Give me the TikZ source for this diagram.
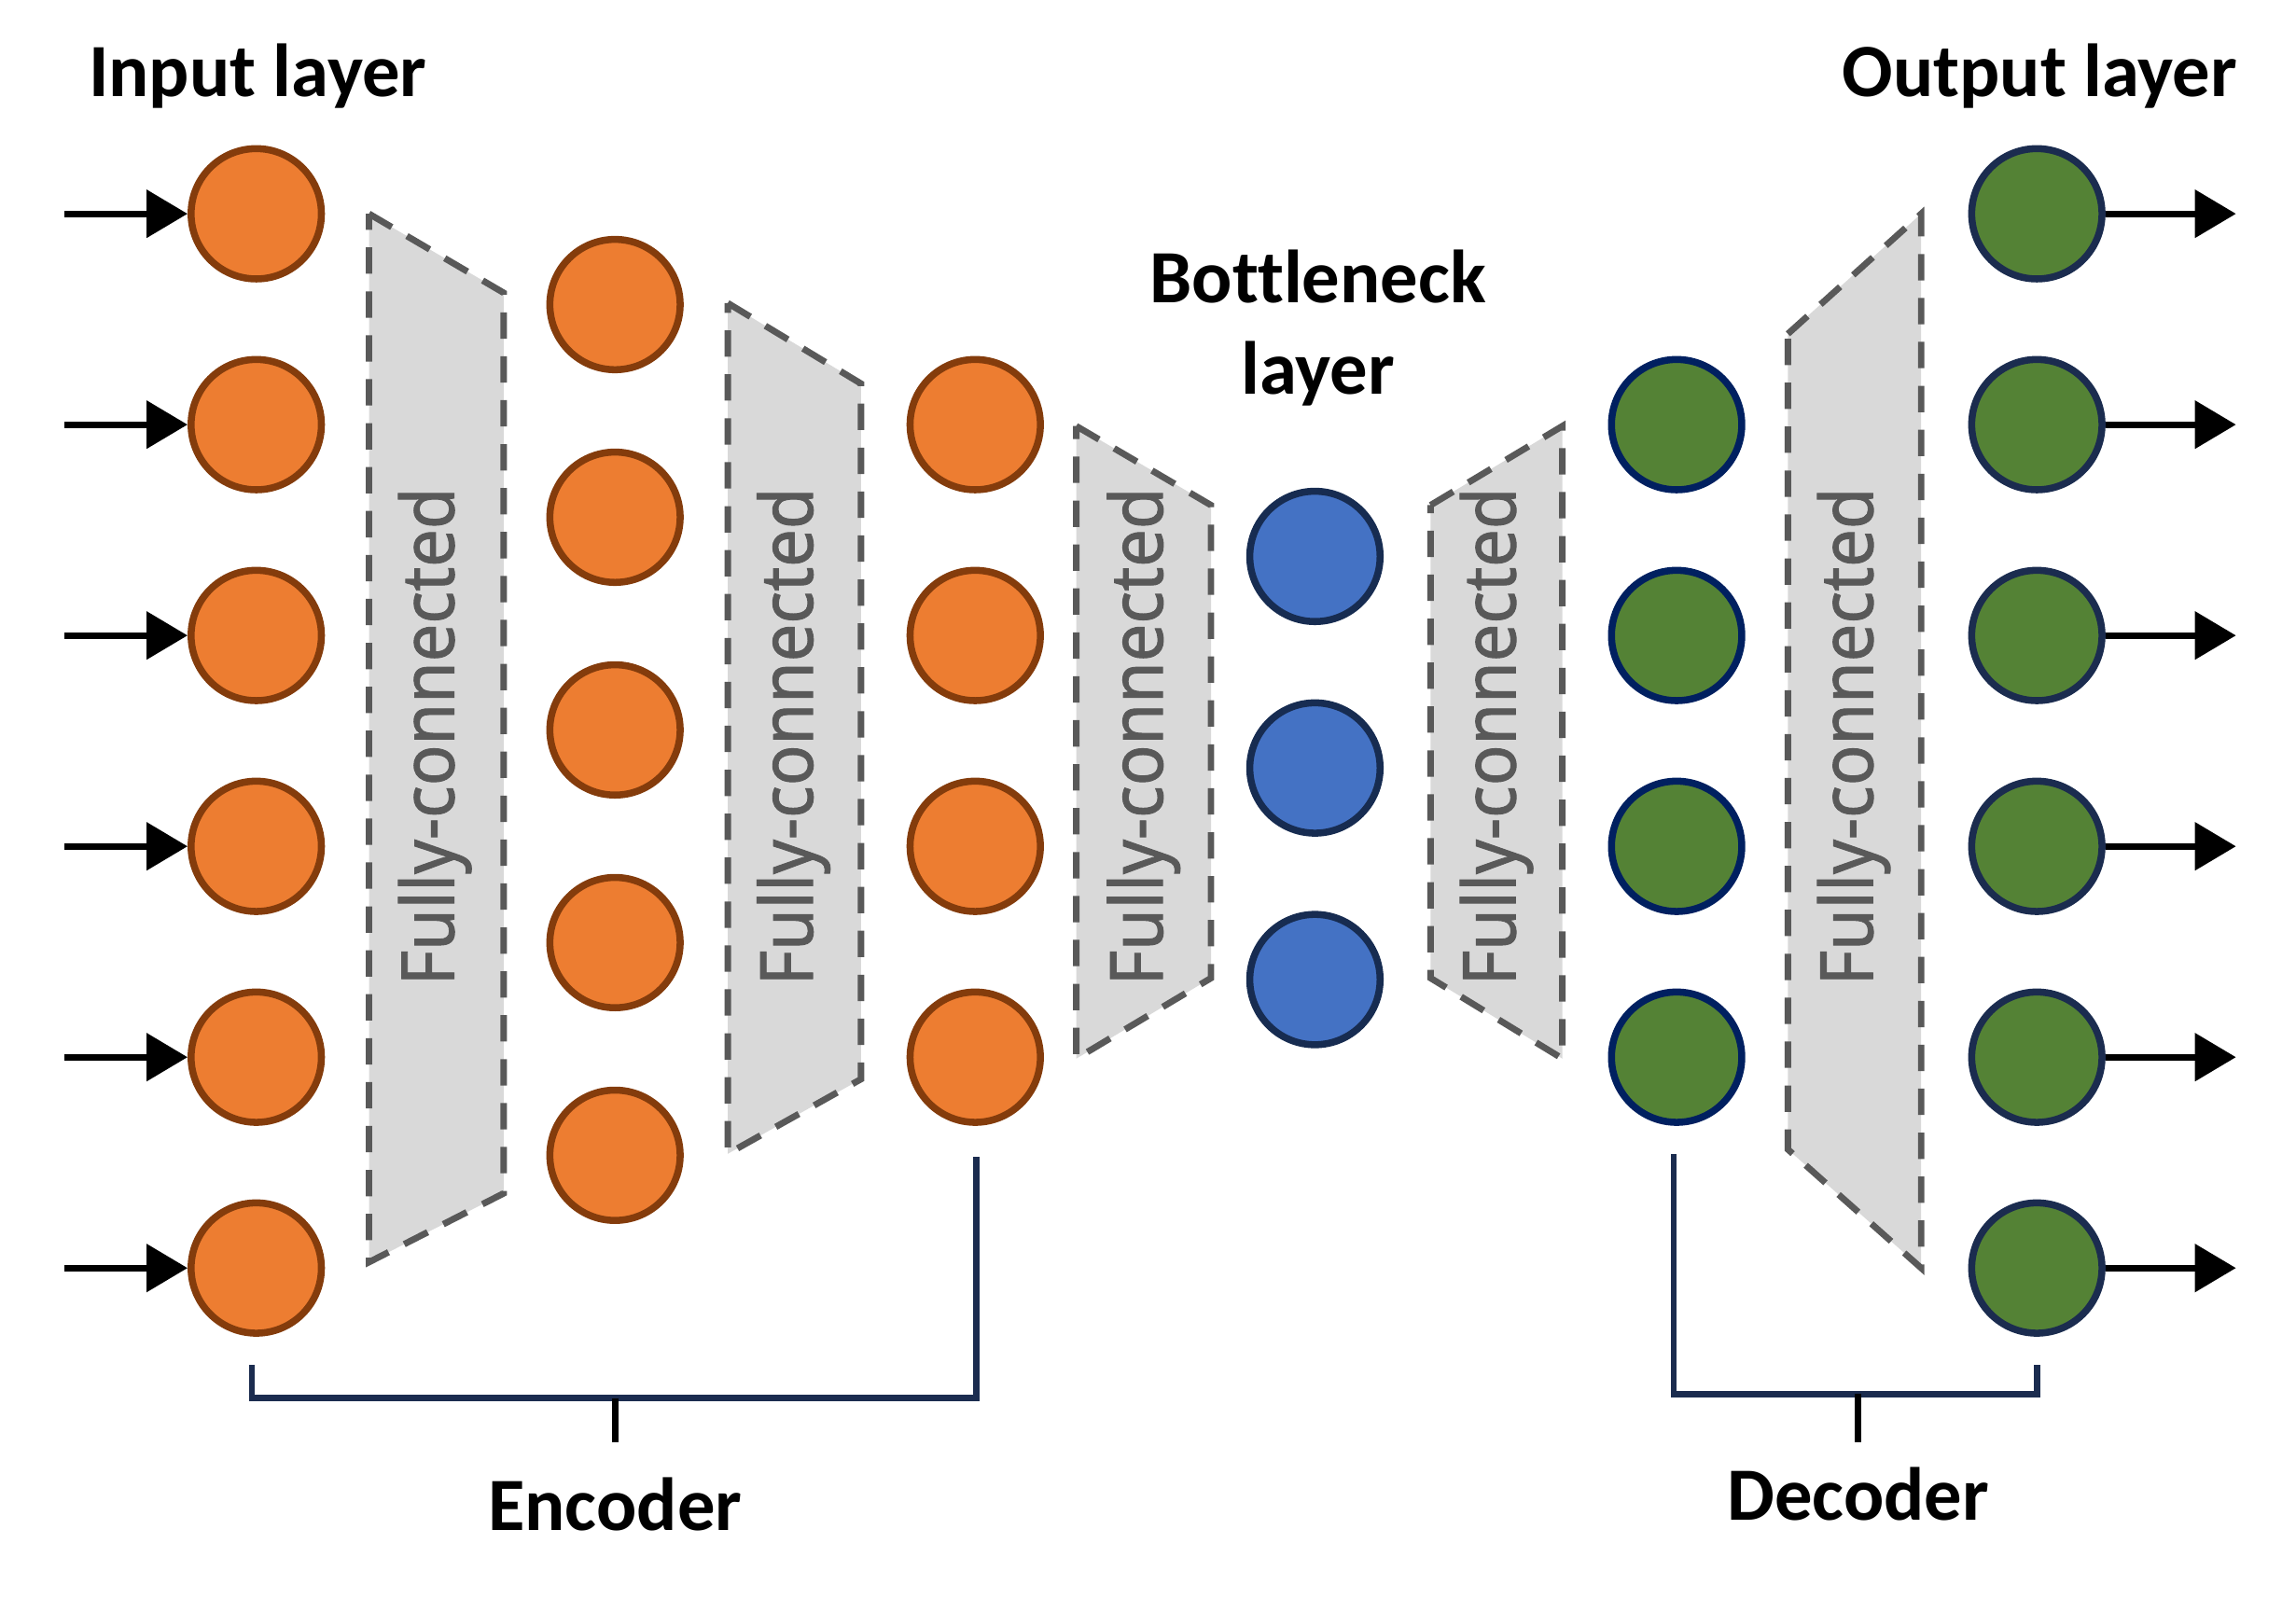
\documentclass[tikz,border=0pt]{standalone}
\usepackage{fontspec}
\setmainfont{Carlito}[Ligatures=NoCommon]
\newfontfamily\fcfont[FakeStretch=0.92,FakeBold=1.2]{Noto Sans}
\usetikzlibrary{arrows.meta}
\definecolor{orfill}{HTML}{ED7D31}
\definecolor{orline}{HTML}{843C0C}
\definecolor{blfill}{HTML}{4472C4}
\definecolor{blline}{HTML}{172C51}
\definecolor{grfill}{HTML}{548235}
\definecolor{grlineA}{HTML}{002060}
\definecolor{grlineB}{HTML}{1B2C4F}
\definecolor{fcfill}{HTML}{D9D9D9}
\definecolor{fcline}{HTML}{595959}
\definecolor{brcol}{HTML}{1B2C4F}
\tikzset{
  neuron/.style={circle, minimum size=44.5pt, inner sep=0pt, line width=2.4pt},
  encn/.style={neuron, fill=orfill, draw=orline},
  botn/.style={neuron, fill=blfill, draw=blline},
  decn/.style={neuron, fill=grfill, draw=grlineA},
  outn/.style={neuron, fill=grfill, draw=grlineB},
  arr/.style={line width=2.2pt, -{Triangle[length=14pt,width=16pt]}},
  fcbox/.style={fill=fcfill, draw=fcline, line width=2.2pt, dash pattern=on 9pt off 6pt, line join=miter},
  fctext/.style={rotate=90, text=fcline, inner sep=0pt, font=\fcfont\fontsize{25}{30}\selectfont},
  title/.style={anchor=base, inner sep=0pt, font=\bfseries\fontsize{25.7}{31}\selectfont},
  bracket/.style={draw=brcol, line width=2.2pt},
  tickline/.style={draw=black, line width=2.2pt},
}
\begin{document}
\begin{tikzpicture}[x=0.5pt, y=-0.5pt]
\useasboundingbox (0,0) rectangle (1568,1092);

% trapezoids (fully-connected blocks)
\draw[fcbox] (252,146) -- (344,200) -- (344,815) -- (252,862) -- cycle;
\draw[fcbox] (497,207) -- (588,262) -- (588,737) -- (497,788) -- cycle;
\draw[fcbox] (735,291) -- (827,345) -- (827,668) -- (735,723) -- cycle;
\draw[fcbox] (977,345) -- (1067,291) -- (1067,723) -- (977,668) -- cycle;
\draw[fcbox] (1221,228) -- (1312,146) -- (1312,866) -- (1221,785) -- cycle;

\node[fctext] (fc1) at (297,503) {Fully-connected};
\node[fctext] (fc2) at (542,503) {Fully-connected};
\node[fctext] (fc3) at (781,503) {Fully-connected};
\node[fctext] (fc4) at (1022,503) {Fully-connected};
\node[fctext] (fc5) at (1266,503) {Fully-connected};

% neurons
\foreach \k in {1,...,6} {
  \pgfmathsetmacro{\yy}{146+144*(\k-1)}
  \node[encn] (i\k) at (175,\yy) {};
  \node[outn] (o\k) at (1391,\yy) {};
  \coordinate (in\k) at (44,\yy);
  \coordinate (out\k) at (1527,\yy);
  \draw[arr] (in\k) -- (i\k.west);
  \draw[arr] (o\k.east) -- (out\k);
}
\foreach \k in {1,...,5} {
  \pgfmathsetmacro{\yy}{208+145.25*(\k-1)}
  \node[encn] (h\k) at (420,\yy) {};
}
\foreach \k in {1,...,4} {
  \pgfmathsetmacro{\yy}{290+144*(\k-1)}
  \node[encn] (g\k) at (666,\yy) {};
  \node[decn] (d\k) at (1145,\yy) {};
}
\foreach \k in {1,...,3} {
  \pgfmathsetmacro{\yy}{380+144.5*(\k-1)}
  \node[botn] (b\k) at (898,\yy) {};
}

% titles
\node[title] (tin) at (176,66) {Input layer};
\node[title] (tout) at (1393,66) {Output layer};
\node[title] (tb1) at (900,207) {Bottleneck};
\node[title] (tb2) at (900,269) {layer};
\node[title] (tenc) at (420,1045) {Encoder};
\node[title] (tdec) at (1269,1038) {Decoder};

% brackets
\coordinate (e1) at (172,932);
\coordinate (e2) at (172,955);
\coordinate (e3) at (667,955);
\coordinate (e4) at (667,790);
\coordinate (et1) at (420,955);
\coordinate (et2) at (420,985);
\draw[bracket] (e1) -- (e2) -- (e3) -- (e4);
\draw[tickline] (et1) -- (et2);

\coordinate (q1) at (1143,788);
\coordinate (q2) at (1143,952);
\coordinate (q3) at (1391,952);
\coordinate (q4) at (1391,932);
\coordinate (qt1) at (1269,952);
\coordinate (qt2) at (1269,985);
\draw[bracket] (q1) -- (q2) -- (q3) -- (q4);
\draw[tickline] (qt1) -- (qt2);
\end{tikzpicture}
\end{document}
